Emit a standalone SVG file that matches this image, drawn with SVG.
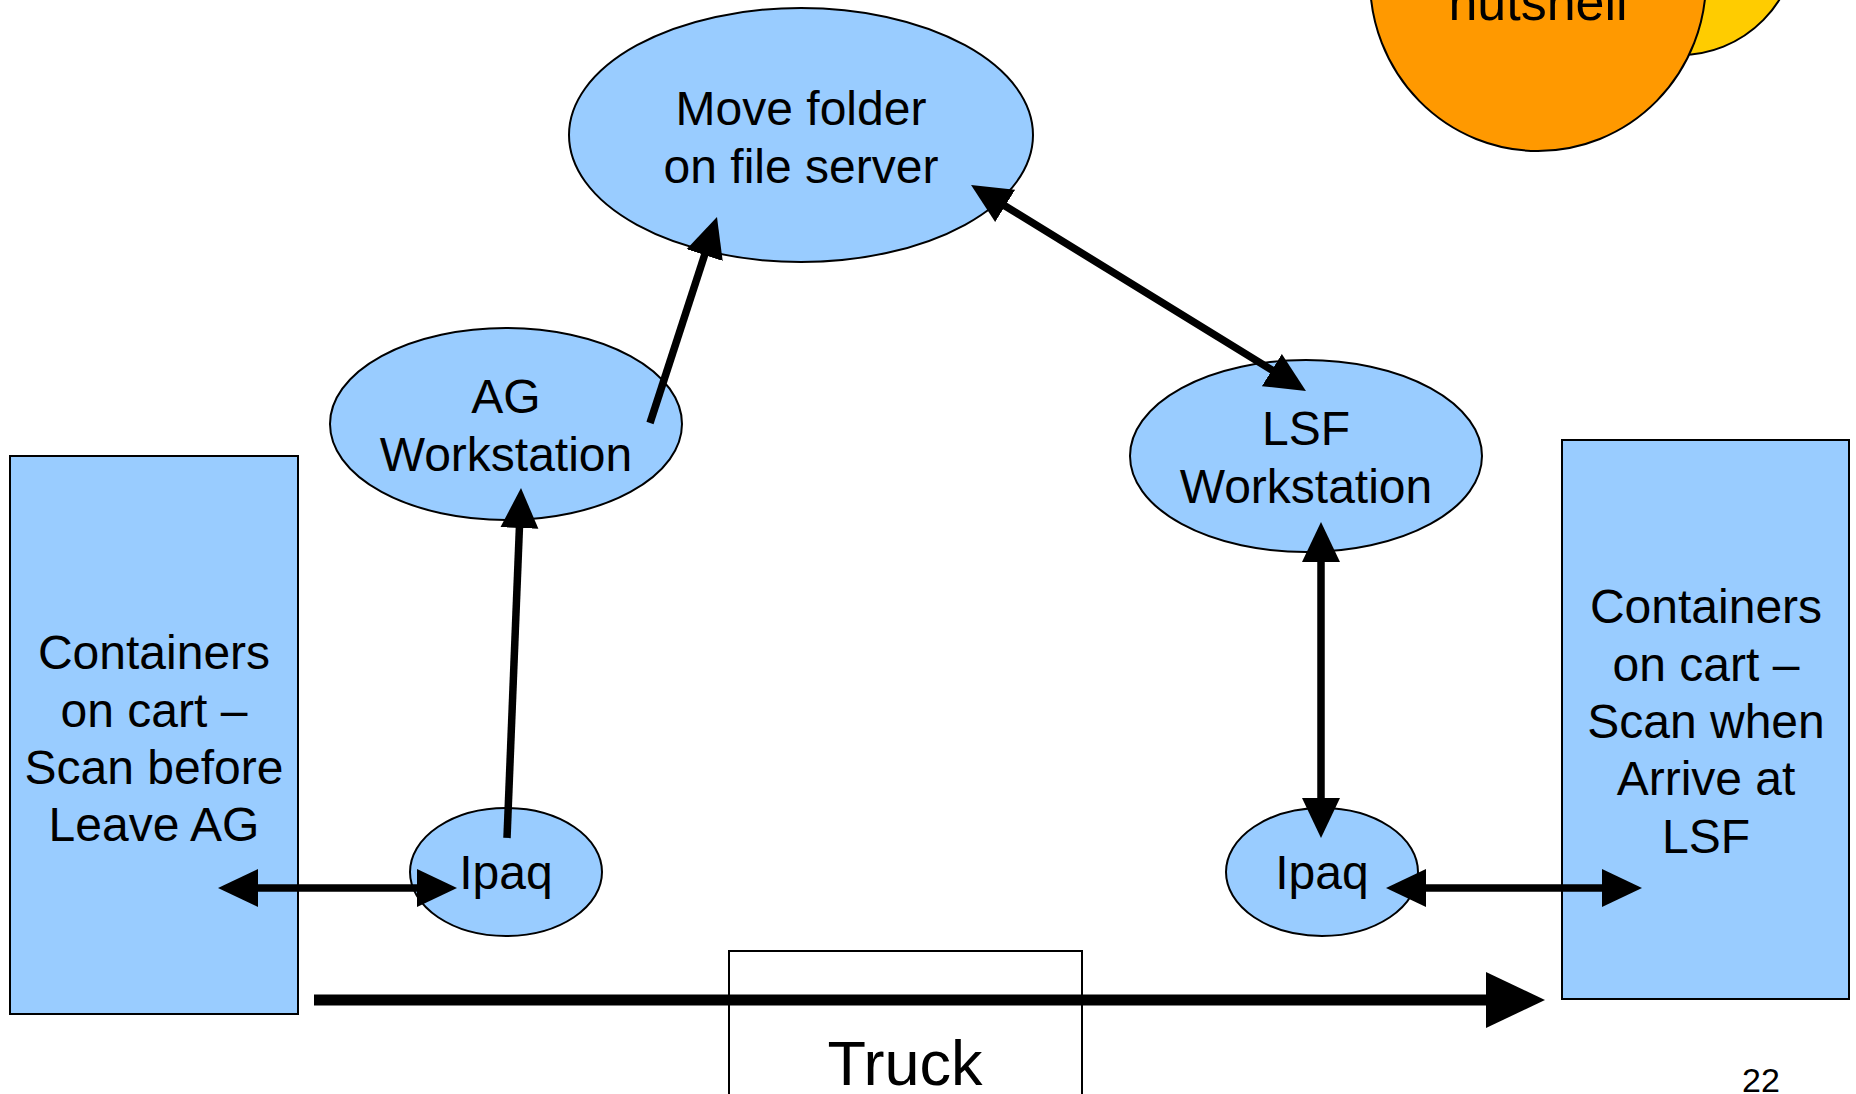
<svg xmlns="http://www.w3.org/2000/svg" width="1856" height="1094" viewBox="0 0 1856 1094">
<style>
.node{fill:#99CCFF;stroke:#000;stroke-width:2}
.lbl{font-family:"Liberation Sans",Arial,sans-serif;font-size:48px;fill:#000;text-anchor:middle}
.conn{stroke:#000;stroke-width:7.5;fill:none}
</style>
<defs>
<marker id="ah" markerUnits="userSpaceOnUse" viewBox="0 0 40 40" markerWidth="40" markerHeight="40" refX="10" refY="20" orient="auto-start-reverse">
<path d="M0,1 L40,20 L0,39 z" fill="#000"/>
</marker>
<marker id="ahBig" markerUnits="userSpaceOnUse" viewBox="0 0 59 56" markerWidth="59" markerHeight="56" refX="9" refY="28" orient="auto">
<path d="M0,0 L59,28 L0,56 z" fill="#000"/>
</marker>
</defs>
<rect width="1856" height="1094" fill="#fff"/>
<g id="nutshell">
<ellipse cx="1680" cy="-65" rx="118" ry="120" fill="#FFCC00" stroke="#000" stroke-width="2"/>
<ellipse cx="1538" cy="-20" rx="168" ry="171" fill="#FF9900" stroke="#000" stroke-width="2"/>
<text class="lbl" x="1538" y="20" style="font-size:52px">nutshell</text>
</g>
<g id="move-folder">
<ellipse class="node" cx="801" cy="135" rx="232" ry="127"/>
<text class="lbl" x="801" y="125">Move folder</text>
<text class="lbl" x="801" y="183">on file server</text>
</g>
<g id="ag-workstation">
<ellipse class="node" cx="506" cy="424" rx="176" ry="96"/>
<text class="lbl" x="506" y="413">AG</text>
<text class="lbl" x="506" y="471">Workstation</text>
</g>
<g id="lsf-workstation">
<ellipse class="node" cx="1306" cy="456" rx="176" ry="96"/>
<text class="lbl" x="1306" y="445">LSF</text>
<text class="lbl" x="1306" y="503">Workstation</text>
</g>
<g id="ipaq-left">
<ellipse class="node" cx="506" cy="872" rx="96" ry="64"/>
<text class="lbl" x="506" y="889">Ipaq</text>
</g>
<g id="ipaq-right">
<ellipse class="node" cx="1322" cy="872" rx="96" ry="64"/>
<text class="lbl" x="1322" y="889">Ipaq</text>
</g>
<g id="containers-ag">
<rect class="node" x="10" y="456" width="288" height="558"/>
<text class="lbl" x="154" y="669">Containers</text>
<text class="lbl" x="154" y="727">on cart –</text>
<text class="lbl" x="154" y="784">Scan before</text>
<text class="lbl" x="154" y="841">Leave AG</text>
</g>
<g id="containers-lsf">
<rect class="node" x="1562" y="440" width="287" height="559"/>
<text class="lbl" x="1706" y="623">Containers</text>
<text class="lbl" x="1706" y="681">on cart –</text>
<text class="lbl" x="1706" y="738">Scan when</text>
<text class="lbl" x="1706" y="795">Arrive at</text>
<text class="lbl" x="1706" y="853">LSF</text>
</g>
<g id="truck">
<rect x="729" y="951" width="353" height="160" fill="#fff" stroke="#000" stroke-width="2"/>
<text class="lbl" x="905" y="1085" style="font-size:63px">Truck</text>
</g>
<g id="connectors">
<line class="conn" x1="650" y1="423" x2="707.7" y2="245.5" marker-end="url(#ah)"/>
<line class="conn" x1="996.6" y1="200.7" x2="1280.4" y2="375.3" marker-start="url(#ah)" marker-end="url(#ah)"/>
<line class="conn" x1="507" y1="838" x2="519.8" y2="518" marker-end="url(#ah)"/>
<line class="conn" x1="1321" y1="552" x2="1321" y2="808" marker-start="url(#ah)" marker-end="url(#ah)"/>
<line class="conn" x1="248" y1="888" x2="427" y2="888" marker-start="url(#ah)" marker-end="url(#ah)"/>
<line class="conn" x1="1416" y1="888" x2="1612" y2="888" marker-start="url(#ah)" marker-end="url(#ah)"/>
<line x1="314" y1="1000" x2="1495" y2="1000" stroke="#000" stroke-width="11" marker-end="url(#ahBig)"/>
</g>
<text x="1761" y="1092" style="font-family:'Liberation Sans',Arial,sans-serif;font-size:34px;text-anchor:middle">22</text>
</svg>
